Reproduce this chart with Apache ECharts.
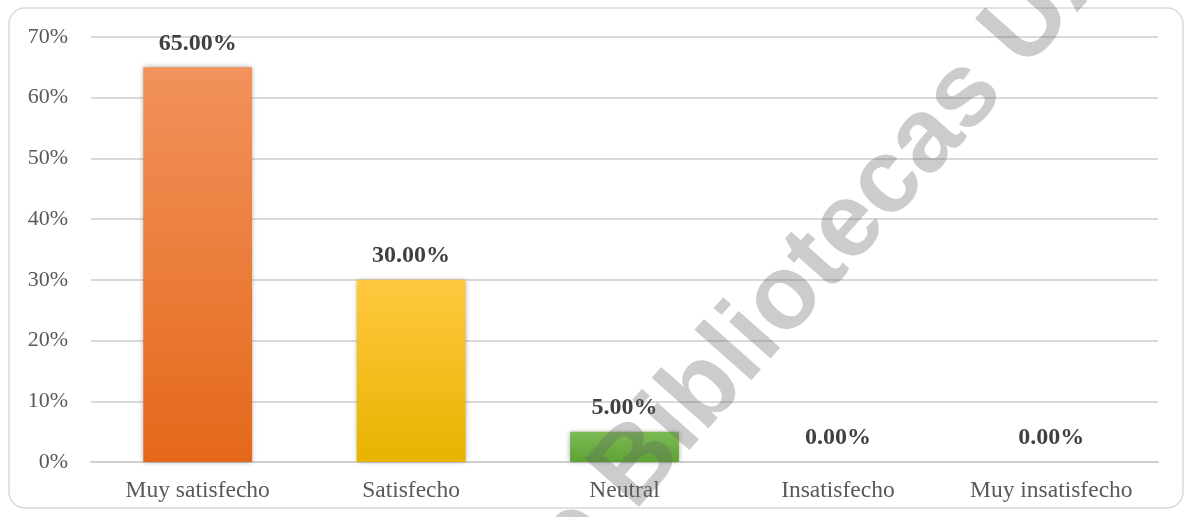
<!DOCTYPE html>
<html>
<head>
<meta charset="utf-8">
<title>Satisfacción</title>
<script src="https://cdn.jsdelivr.net/npm/echarts@6/dist/echarts.min.js"></script>
<style>
  html, body { margin: 0; padding: 0; background: #fff; }
  #chart { width: 1192px; height: 517px; }
</style>
</head>
<body>
<div id="chart"></div>
<script>
// datos del gráfico
const categorias = ["Muy satisfecho", "Satisfecho", "Neutral", "Insatisfecho", "Muy insatisfecho"];
const porcentajes = [65, 30, 5, 0, 0];
// colores de cada barra (arriba, abajo)
const coloresArriba = ["#f2925c", "#ffc83f", "#7cba55", "#7cba55", "#7cba55"];
const coloresAbajo = ["#e4681a", "#e8b300", "#5da334", "#5da334", "#5da334"];

const chart = echarts.init(document.getElementById("chart"));

const serif = "'Liberation Serif', 'Times New Roman', serif";

chart.setOption({
  animation: false,
  grid: { left: 91, right: 34, top: 37, bottom: 55 },
  xAxis: {
    type: "category",
    data: categorias,
    axisTick: { show: false },
    axisLine: { lineStyle: { color: "#d0d0d0", width: 2 } },
    axisLabel: { color: "#595959", fontFamily: serif, fontSize: 23.5, margin: 17 },
  },
  yAxis: {
    type: "value",
    min: 0,
    max: 70,
    interval: 10,
    axisLabel: {
      color: "#595959",
      fontFamily: serif,
      fontSize: 22,
      margin: 23,
      formatter: (v) => v + "%",
    },
    splitLine: { lineStyle: { color: "#d9d9d9", width: 2 } },
  },
  series: [
    {
      type: "bar",
      barCategoryGap: "49%",
      data: porcentajes.map((v, i) => ({
        value: v,
        itemStyle: {
          color: new echarts.graphic.LinearGradient(0, 0, 0, 1, [
            { offset: 0, color: coloresArriba[i] },
            { offset: 1, color: coloresAbajo[i] },
          ]),
        },
      })),
      itemStyle: {
        shadowBlur: 5,
        shadowColor: "rgba(0,0,0,0.35)",
      },
      label: {
        show: true,
        position: "top",
        distance: 12,
        color: "#404040",
        fontFamily: serif,
        fontWeight: "bold",
        fontSize: 24,
        formatter: (p) => p.value.toFixed(2) + "%",
      },
    },
  ],
  graphic: [
    {
      type: "rect",
      z: -1,
      shape: { x: 9, y: 8, width: 1174, height: 500, r: 16 },
      style: { fill: "none", stroke: "#d9d9d9", lineWidth: 1.5 },
    },
    {
      // marca de agua
      type: "text",
      z: 100,
      x: 835,
      y: 242,
      rotation: 0.846,
      style: {
        text: "de Bibliotecas UAQ",
        font: "bold 105px 'Liberation Sans', Arial, sans-serif",
        fill: "rgba(100,100,100,0.33)",
        align: "center",
        verticalAlign: "middle",
      },
    },
  ],
});
</script>
</body>
</html>
